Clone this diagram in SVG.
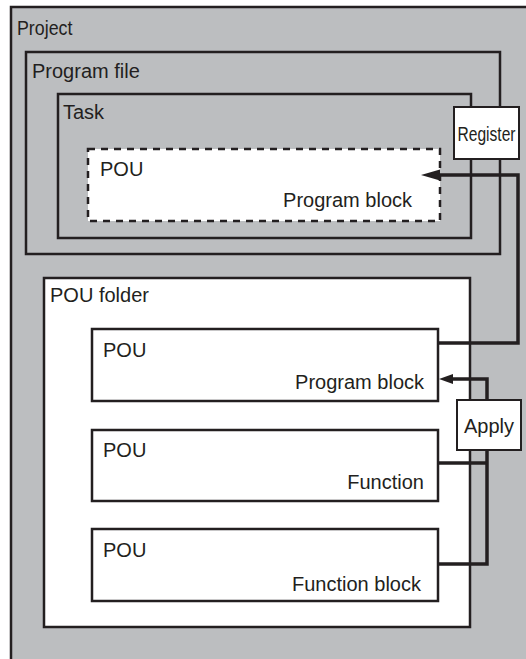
<svg xmlns="http://www.w3.org/2000/svg" width="526" height="659" viewBox="0 0 526 659">
<style>
.box{stroke:#231f20;stroke-width:2.5;}
.gray{fill:#bcbec0;}
.white{fill:#ffffff;}
.t{font-family:"Liberation Sans",Arial,sans-serif;font-size:20px;fill:#231f20;}
.e{text-anchor:end;}
.m{text-anchor:middle;}
.conn{fill:none;stroke:#231f20;stroke-width:3.5;}
.head{fill:#231f20;}
</style>
<rect width="526" height="659" fill="#ffffff"/>
<g id="project">
<rect class="box gray" x="11" y="7" width="530" height="670"/>
<text class="t" transform="translate(17,35) scale(0.89,1)" x="0" y="0">Project</text>
</g>
<g id="program-file">
<rect class="box gray" x="26" y="52" width="474" height="202"/>
<text class="t" x="32" y="78">Program file</text>
</g>
<g id="task">
<rect class="box gray" x="58" y="94" width="413" height="144"/>
<text class="t" x="63" y="119">Task</text>
</g>
<g id="pou-task">
<rect class="white" x="88" y="149" width="352" height="72" stroke="#231f20" stroke-width="2.5" stroke-dasharray="7 6"/>
<text class="t" x="100" y="176">POU</text>
<text class="t e" x="412" y="207">Program block</text>
</g>
<g id="pou-folder">
<rect class="box white" x="44" y="278" width="426" height="349"/>
<text class="t" x="50" y="302">POU folder</text>
</g>
<g id="pou1">
<rect class="box white" x="92" y="329" width="346" height="72"/>
<text class="t" x="103" y="357">POU</text>
<text class="t e" x="424" y="389">Program block</text>
</g>
<g id="pou2">
<rect class="box white" x="92" y="430" width="346" height="71"/>
<text class="t" x="103" y="457">POU</text>
<text class="t e" x="424" y="489">Function</text>
</g>
<g id="pou3">
<rect class="box white" x="92" y="529" width="346" height="72"/>
<text class="t" x="103" y="557">POU</text>
<text class="t e" x="421" y="591">Function block</text>
</g>
<g id="connectors">
<polyline class="conn" points="438,343 518,343 518,175 436,175"/>
<path class="head" d="M421,175 L440,169.5 L440,180.5 Z"/>
<polyline class="conn" points="438,564 487,564 487,379 450,379"/>
<path class="head" d="M439,379 L453,374 L453,384 Z"/>
<line class="conn" x1="438" y1="463" x2="487" y2="463"/>
</g>
<g id="register">
<rect class="white" x="454" y="107" width="65" height="52" stroke="#231f20" stroke-width="2"/>
<text class="t m" transform="translate(486.5,141) scale(0.78,1)" x="0" y="0" font-size="17">Register</text>
</g>
<g id="apply">
<rect class="white" x="457" y="400" width="64" height="50" stroke="#231f20" stroke-width="2"/>
<text class="t m" x="489" y="433">Apply</text>
</g>
</svg>
